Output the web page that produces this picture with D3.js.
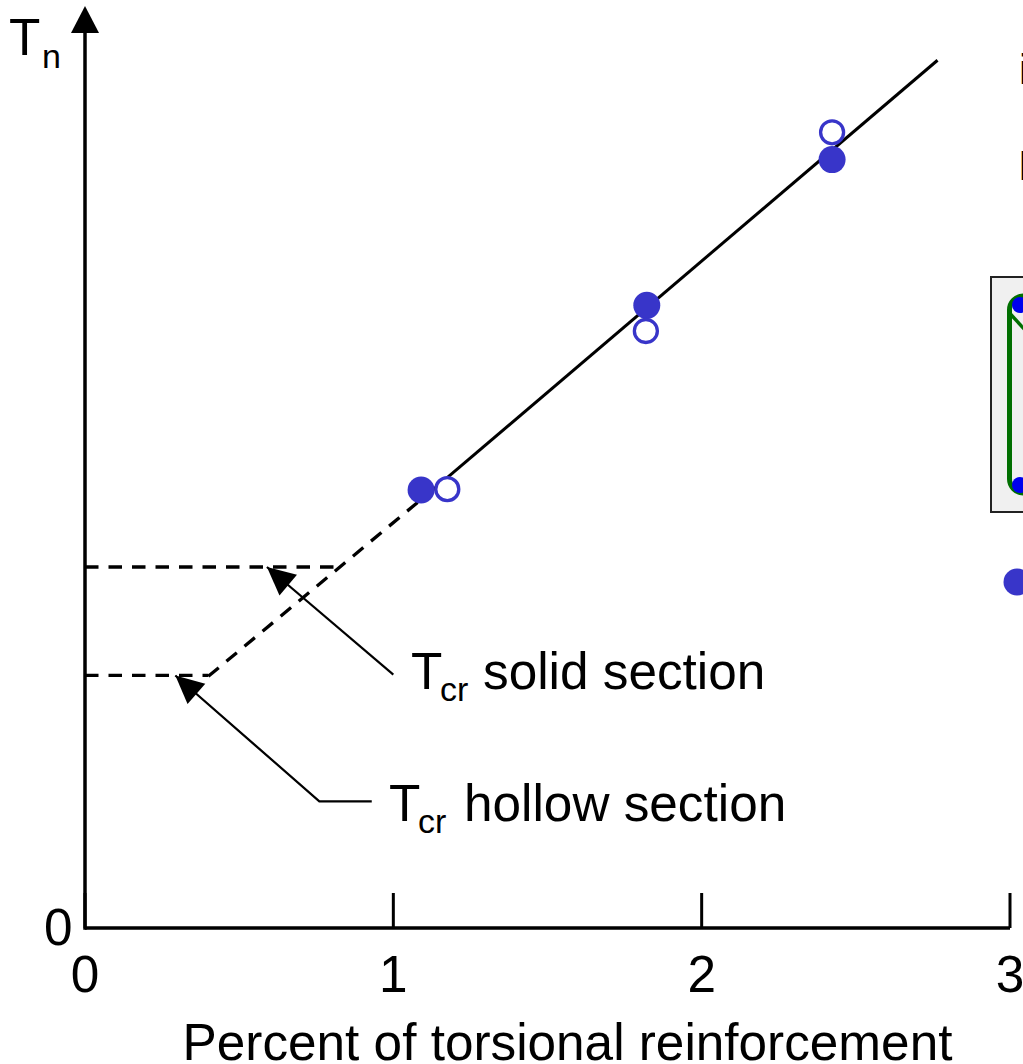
<!DOCTYPE html>
<html>
<head>
<meta charset="utf-8">
<script src="https://cdn.jsdelivr.net/npm/d3@7"></script>
<style>
  html, body { margin: 0; padding: 0; background: #fff; overflow: hidden; }
  text { font-family: "Liberation Sans", Arial, sans-serif; fill: #000; }
</style>
</head>
<body>
<div id="chart"></div>
<script>
// values (y has no printed scale, so it is in arbitrary units)
const xTicks = [0, 1, 2, 3];
const yTicks = [0];

const solidX = [1.09, 1.822, 2.423];
const solidY = [5.29, 7.52, 9.28];
const hollowX = [1.175, 1.819, 2.423];
const hollowY = [5.30, 7.21, 9.61];

const trendSolid = [[1.15, 5.36], [2.765, 10.48]];
const trendDashed = [[0.40, 3.04], [1.15, 5.36]];
const crackSolid = [[0, 4.36], [0.81, 4.36]];
const crackHollow = [[0, 3.05], [0.40, 3.05]];

const leaderSolid = [[1.0, 3.06], [0.59, 4.36]];
const leaderHollow = [[0.93, 1.53], [0.76, 1.53], [0.293, 3.05]];

const width = 1023, height = 1064;
const blue = "#3835c9";
const fontSize = 51.3;

const x = d3.scaleLinear().domain([0, 3]).range([85, 1010]);
const y = d3.scaleLinear().domain([0, 10]).range([928, 100]);
const line = d3.line().x(d => x(d[0])).y(d => y(d[1]));

const svg = d3.select("#chart").append("svg")
    .attr("width", width)
    .attr("height", height)
    .attr("viewBox", `0 0 ${width} ${height}`)
    .style("display", "block");

// inset diagram and legend, cut off by the right edge of the picture
const inset = svg.append("g");
inset.append("rect")
    .attr("x", 991).attr("y", 277).attr("width", 60).attr("height", 235)
    .attr("fill", "#f0f0f0").attr("stroke", "#222").attr("stroke-width", 2);
inset.append("rect")
    .attr("x", 1009.5).attr("y", 296).attr("width", 60).attr("height", 197).attr("rx", 14)
    .attr("fill", "none").attr("stroke", "#006f00").attr("stroke-width", 5);
inset.append("line")
    .attr("x1", 1009.5).attr("y1", 313).attr("x2", 1026).attr("y2", 331)
    .attr("stroke", "#006f00").attr("stroke-width", 3.5);
inset.selectAll("circle.bar").data([305, 485]).enter().append("circle")
    .attr("class", "bar")
    .attr("cx", 1020).attr("cy", d => d).attr("r", 8)
    .attr("fill", "#0000ee");
inset.append("circle")
    .attr("cx", 1017).attr("cy", 582).attr("r", 13.5).attr("fill", blue);
inset.append("text").attr("x", 1019).attr("y", 84).attr("font-size", 42).text("i");
inset.append("text").attr("x", 1018.3).attr("y", 180).attr("font-size", 42).text("L");

// axes
const xAxis = d3.axisBottom(x).tickValues(xTicks).tickFormat(d3.format("d"))
    .tickSizeInner(-35).tickSizeOuter(0).tickPadding(28).offset(0);
const gx = svg.append("g").attr("transform", `translate(0,${y(0)})`).call(xAxis);
gx.select(".domain").attr("stroke", "#000").attr("stroke-width", 3.5);
gx.selectAll(".tick line").attr("stroke", "#000").attr("stroke-width", 3);
gx.selectAll(".tick text").attr("font-size", fontSize).style("font-family", "Liberation Sans").attr("fill", "#000");

const yAxis = d3.axisLeft(y).tickValues(yTicks).tickFormat(d3.format("d"))
    .tickSize(0).tickPadding(12.5).offset(0);
const gy = svg.append("g").attr("transform", `translate(${x(0)},0)`).call(yAxis);
gy.select(".domain").remove();
gy.selectAll(".tick text").attr("font-size", fontSize).attr("dy", "17px")
    .style("font-family", "Liberation Sans").attr("fill", "#000");

svg.append("line")
    .attr("x1", x(0)).attr("y1", y(0) + 1.7).attr("x2", x(0)).attr("y2", 30)
    .attr("stroke", "#000").attr("stroke-width", 3.5);
svg.append("path")
    .attr("d", `M${x(0)},6L${x(0) + 14},33L${x(0) - 14},33Z`)
    .attr("fill", "#000");

// dashed part, then the fitted line
[trendDashed, crackSolid, crackHollow].forEach(d => {
    svg.append("path").attr("d", line(d))
        .attr("fill", "none").attr("stroke", "#000").attr("stroke-width", 3.3)
        .attr("stroke-dasharray", "13.5 10");
});
svg.append("path").attr("d", line(trendSolid))
    .attr("fill", "none").attr("stroke", "#000").attr("stroke-width", 3);

// leaders with arrow heads
function leader(points) {
    const n = points.length;
    const tip = [x(points[n - 1][0]), y(points[n - 1][1])];
    const prev = [x(points[n - 2][0]), y(points[n - 2][1])];
    const a = Math.atan2(prev[1] - tip[1], prev[0] - tip[0]);
    const len = 28, half = 13.5;
    const bx = tip[0] + Math.cos(a) * len, by = tip[1] + Math.sin(a) * len;
    svg.append("path").attr("d", line(points))
        .attr("fill", "none").attr("stroke", "#000").attr("stroke-width", 2.2);
    svg.append("path")
        .attr("d", `M${tip[0]},${tip[1]}L${bx - Math.sin(a) * half},${by + Math.cos(a) * half}L${bx + Math.sin(a) * half},${by - Math.cos(a) * half}Z`)
        .attr("fill", "#000");
}
leader(leaderSolid);
leader(leaderHollow);

// points
svg.selectAll("circle.solid").data(solidX).enter().append("circle")
    .attr("class", "solid")
    .attr("cx", d => x(d))
    .attr("cy", (d, i) => y(solidY[i]))
    .attr("r", 13.5)
    .attr("fill", blue);
svg.selectAll("circle.hollow").data(hollowX).enter().append("circle")
    .attr("class", "hollow")
    .attr("cx", d => x(d))
    .attr("cy", (d, i) => y(hollowY[i]))
    .attr("r", 11.5)
    .attr("fill", "#fff")
    .attr("stroke", blue)
    .attr("stroke-width", 3.3);

// labels
svg.append("text").attr("x", 567.5).attr("y", 1060).attr("text-anchor", "middle")
    .attr("font-size", fontSize).text("Percent of torsional reinforcement");

svg.append("text").attr("x", 9).attr("y", 55).attr("font-size", fontSize).text("T");
svg.append("text").attr("x", 42).attr("y", 68).attr("font-size", 34).text("n");

function tcr(tx, ty, label, gap) {
    svg.append("text").attr("x", tx).attr("y", ty).attr("font-size", fontSize).text("T");
    svg.append("text").attr("x", tx + 29).attr("y", ty + 12).attr("font-size", 34).text("cr");
    svg.append("text").attr("x", tx + gap).attr("y", ty).attr("font-size", fontSize).text(label);
}
tcr(411, 689, "solid section", 72);
tcr(389, 821, "hollow section", 75);
</script>
</body>
</html>
